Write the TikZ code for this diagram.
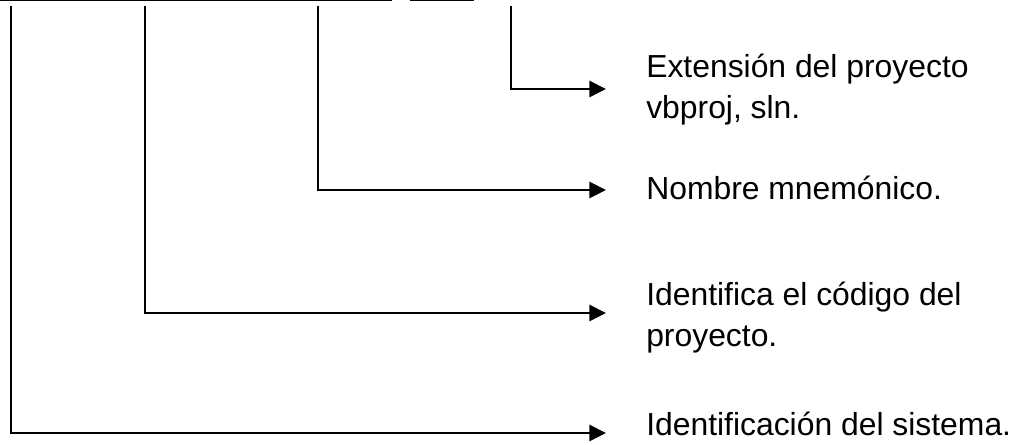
\documentclass[tikz,border=0pt]{standalone}
\usepackage{fontspec}
\setmainfont{Liberation Sans}
\usetikzlibrary{arrows.meta}
\begin{document}
\begin{tikzpicture}[x=0.75pt,y=-0.75pt,
  wire/.style={line width=2.2pt,line cap=rect},
  pointer/.style={wire,line cap=butt,-{Triangle[length=12.5pt,width=12pt]}},
  label/.style={anchor=base west,inner sep=0pt,align=left,
    font=\fontsize{23.9pt}{30.75pt}\selectfont}]
\useasboundingbox (0,0) rectangle (1016,444);

% underlines of the file name, cut by the top edge
\draw[line width=1.8pt] (0,0) coordinate (u1) -- (392,0) coordinate (u2);
\draw[line width=1.8pt] (410,0) coordinate (u3) -- (474,0) coordinate (u4);

% explanations (base anchor of a two-line label sits on its last line)
\node[label] (ext) at (646,118) {Extensión del proyecto\\vbproj, sln.};
\node[label] (nom) at (646,199) {Nombre mnemónico.};
\node[label] (cod) at (646,346) {Identifica el código del\\proyecto.};
\node[label] (sis) at (646,435) {Identificación del sistema.};

% leaders from each part of the name
\coordinate (t1) at (11,7);   \coordinate (b1) at (11,433);
\coordinate (t2) at (145,7);  \coordinate (b2) at (145,313);
\coordinate (t3) at (318,7);  \coordinate (b3) at (318,190);
\coordinate (t4) at (511,7);  \coordinate (b4) at (511,89);
\coordinate (e1) at (606,433);
\coordinate (e2) at (606,313);
\coordinate (e3) at (606,190);
\coordinate (e4) at (606,89);

\draw[wire] (t1) -- (b1);
\draw[pointer] (b1) -- (e1);
\draw[wire] (t2) -- (b2);
\draw[pointer] (b2) -- (e2);
\draw[wire] (t3) -- (b3);
\draw[pointer] (b3) -- (e3);
\draw[wire] (t4) -- (b4);
\draw[pointer] (b4) -- (e4);
\end{tikzpicture}
\end{document}
